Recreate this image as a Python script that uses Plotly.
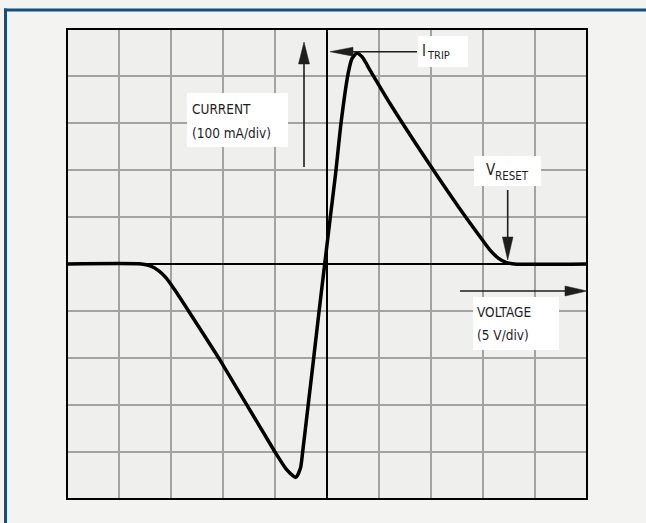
import math
import plotly.graph_objects as go

# ---- data (oscilloscope trace, volts vs mA) ----
voltage_v = [-25, -17.85, -17.0, -16.2, -15.45, -14.55, -13.37, -10.3, -5.0, -3.9,
             -3.0, -2.55, -2.34, -1.81, -1.28, -0.76, -0.22,
             0.32, 0.82, 1.35, 2.04, 2.4, 2.87, 3.4, 4.2, 6.1, 9.95,
             12.6, 14.95, 15.7, 16.5, 17.2, 18.0, 25]
current_ma = [0, 0, -4, -14, -30, -58, -98, -204, -400, -437,
              -454, -434, -400, -300, -200, -100, 0,
              100, 191, 300, 406, 437, 449, 440, 410, 340, 209,
              123, 51, 29, 12, 3.5, 0, 0]

x_range = [-25, 25]   # 5 V/div, 10 divisions
y_range = [-500, 500] # 100 mA/div, 10 divisions

W, H = 646, 523
ML, MR, MT, MB = 67, 59, 29, 24
PW, PH = W - ML - MR, H - MT - MB

INK = "#1e1e1e"
FONT = "DejaVu Sans Condensed, DejaVu Sans, sans-serif"


def px2x(px):
    return x_range[0] + (px - ML) / PW * (x_range[1] - x_range[0])


def py2y(py):
    return y_range[1] - (py - MT) / PH * (y_range[1] - y_range[0])


def pxp(px):  # pixel -> paper x
    return (px - ML) / PW


def pyp(py):  # pixel -> paper y
    return 1 - (py - MT) / PH


fig = go.Figure()
fig.add_trace(go.Scatter(x=voltage_v, y=current_ma, mode="lines",
                         line=dict(color="black", width=3.5, shape="spline", smoothing=0.6),
                         hoverinfo="skip", showlegend=False))

shapes = []
# blue frame
shapes.append(dict(type="line", xref="paper", yref="paper", x0=pxp(4), x1=pxp(660),
                   y0=pyp(10), y1=pyp(10), line=dict(color="#12507e", width=3)))
shapes.append(dict(type="line", xref="paper", yref="paper", x0=pxp(5.5), x1=pxp(5.5),
                   y0=pyp(8.5), y1=pyp(540), line=dict(color="#12507e", width=3)))
# plot border
shapes.append(dict(type="rect", xref="paper", yref="paper", x0=0, x1=1, y0=0, y1=1,
                   line=dict(color="black", width=2), layer="above"))

# label boxes
boxes = [(187, 93, 288, 147), (418, 36, 468, 67), (474, 156, 541, 186), (473, 297, 559, 350)]
for (a, b, c, d) in boxes:
    shapes.append(dict(type="rect", xref="x", yref="y", x0=px2x(a), x1=px2x(c),
                       y0=py2y(b), y1=py2y(d), fillcolor="white", line=dict(width=0),
                       layer="between"))


def arrow(x_tail, y_tail, x_tip, y_tip, head_len, half_w, width=1.6):
    dx, dy = x_tip - x_tail, y_tip - y_tail
    L = math.hypot(dx, dy)
    ux, uy = dx / L, dy / L
    bx, by = x_tip - ux * head_len, y_tip - uy * head_len
    shapes.append(dict(type="line", xref="x", yref="y", x0=px2x(x_tail), y0=py2y(y_tail),
                       x1=px2x(bx), y1=py2y(by), line=dict(color=INK, width=width), layer="above"))
    nx, ny = -uy, ux
    p1 = (bx + nx * half_w, by + ny * half_w)
    p2 = (bx - nx * half_w, by - ny * half_w)
    path = "M {} {} L {} {} L {} {} Z".format(px2x(x_tip), py2y(y_tip), px2x(p1[0]), py2y(p1[1]),
                                             px2x(p2[0]), py2y(p2[1]))
    shapes.append(dict(type="path", xref="x", yref="y", path=path, fillcolor=INK,
                       line=dict(color=INK, width=0.5), layer="above"))


arrow(304, 167, 304, 42, 22, 5.5)      # current axis arrow
arrow(417, 51.7, 330, 51.7, 23, 4.5)   # I_TRIP
arrow(507.7, 190, 507.7, 260, 23, 5.3) # V_RESET
arrow(460, 291, 587, 291, 22, 5)       # voltage arrow

ann = []


def label(px, py, text, size):
    ann.append(dict(x=px2x(px), y=py2y(py), xref="x", yref="y", text=text, showarrow=False,
                    xanchor="left", yanchor="middle", align="left", borderpad=0,
                    font=dict(family=FONT, size=size, color=INK)))


label(191, 109, "CURRENT", 13.5)
label(191, 133, "(100 mA/div)", 13.5)
label(421, 50.5, "I", 15)
label(426, 55.5, "TRIP", 11)
label(485, 170, "V", 15)
label(494, 176, "RESET", 11.5)
label(476, 311.5, "VOLTAGE", 13.5)
label(476, 335, "(5 V/div)", 13.5)

axis_common = dict(showticklabels=False, ticks="", showline=False,
                   gridcolor="#a3a3a3", gridwidth=1.3,
                   zeroline=True, zerolinecolor="black", zerolinewidth=1.8)

fig.update_layout(
    width=W, height=H,
    margin=dict(l=ML, r=MR, t=MT, b=MB),
    paper_bgcolor="#f3f3f2",
    plot_bgcolor="#efefee",
    xaxis=dict(range=x_range, dtick=5, fixedrange=True, **axis_common),
    yaxis=dict(range=y_range, dtick=100, fixedrange=True, **axis_common),
    shapes=shapes,
    annotations=ann,
    showlegend=False,
)

fig.write_html("out.html", config={"displayModeBar": False, "staticPlot": True},
               post_script="document.body.style.margin='0';document.body.style.overflow='hidden';")
